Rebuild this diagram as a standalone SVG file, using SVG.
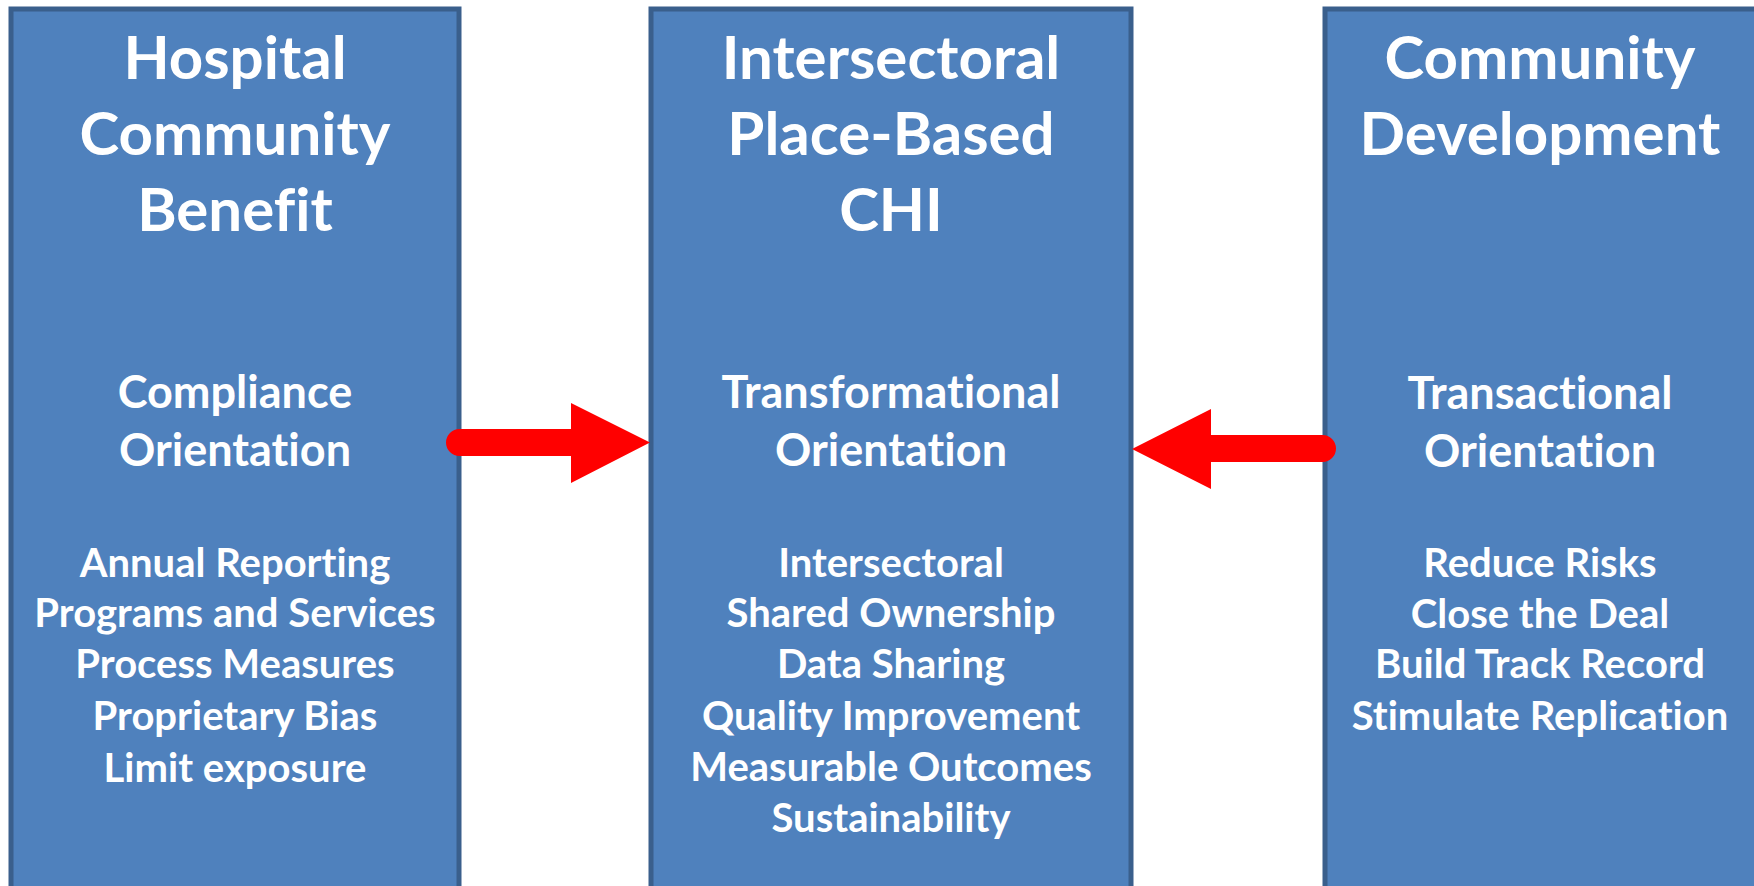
<svg xmlns="http://www.w3.org/2000/svg" width="1754" height="886" viewBox="0 0 1754 886">
<style>
.box{fill:#4F81BD;stroke:#3A5F8C;stroke-width:5}
text{font-family:Lato,"Open Sans","Liberation Sans",sans-serif;font-weight:bold;fill:#fff;text-anchor:middle;font-variant-ligatures:none;font-feature-settings:"liga" 0,"clig" 0,"calt" 0,"dlig" 0;letter-spacing:0.01px}
.t{font-size:60px}
.o{font-size:45px}
.l{font-size:40px}
.arrow{fill:#FF0000}
</style>
<rect width="1754" height="886" fill="#fff"/>
<g id="hospital">
<rect class="box" x="11" y="9" width="448" height="900"/>
<text class="t" x="235" y="79">Hospital</text>
<text class="t" x="235" y="155">Community</text>
<text class="t" x="235" y="231">Benefit</text>
<text class="o" x="235" y="408">Compliance</text>
<text class="o" x="235" y="466">Orientation</text>
<text class="l" x="235" y="577">Annual Reporting</text>
<text class="l" x="235" y="627">Programs and Services</text>
<text class="l" x="235" y="678">Process Measures</text>
<text class="l" x="235" y="730">Proprietary Bias</text>
<text class="l" x="235" y="782">Limit exposure</text>
</g>
<g id="chi">
<rect class="box" x="651" y="9" width="480" height="900"/>
<text class="t" x="891" y="79">Intersectoral</text>
<text class="t" x="891" y="155">Place-Based</text>
<text class="t" x="891" y="231">CHI</text>
<text class="o" x="891" y="408">Transformational</text>
<text class="o" x="891" y="466">Orientation</text>
<text class="l" x="891" y="577">Intersectoral</text>
<text class="l" x="891" y="627">Shared Ownership</text>
<text class="l" x="891" y="678">Data Sharing</text>
<text class="l" x="891" y="730">Quality Improvement</text>
<text class="l" x="891" y="781">Measurable Outcomes</text>
<text class="l" x="891" y="832">Sustainability</text>
</g>
<g id="community-development">
<rect class="box" x="1325" y="9" width="500" height="900"/>
<text class="t" x="1540" y="79">Community</text>
<text class="t" x="1540" y="155">Development</text>
<text class="o" x="1540" y="409">Transactional</text>
<text class="o" x="1540" y="467">Orientation</text>
<text class="l" x="1540" y="577">Reduce Risks</text>
<text class="l" x="1540" y="628">Close the Deal</text>
<text class="l" x="1540" y="678">Build Track Record</text>
<text class="l" x="1540" y="730">Stimulate Replication</text>
</g>
<g id="connectors">
<path class="arrow" d="M459.5 429 L571 429 L571 403 L650 442.5 L571 483 L571 456 L459.5 456 A13.5 13.5 0 0 1 459.5 429 Z"/>
<path class="arrow" d="M1132 449 L1211 409 L1211 435 L1322.5 435 A13.5 13.5 0 0 1 1322.5 462 L1211 462 L1211 489 Z"/>
</g>
</svg>
